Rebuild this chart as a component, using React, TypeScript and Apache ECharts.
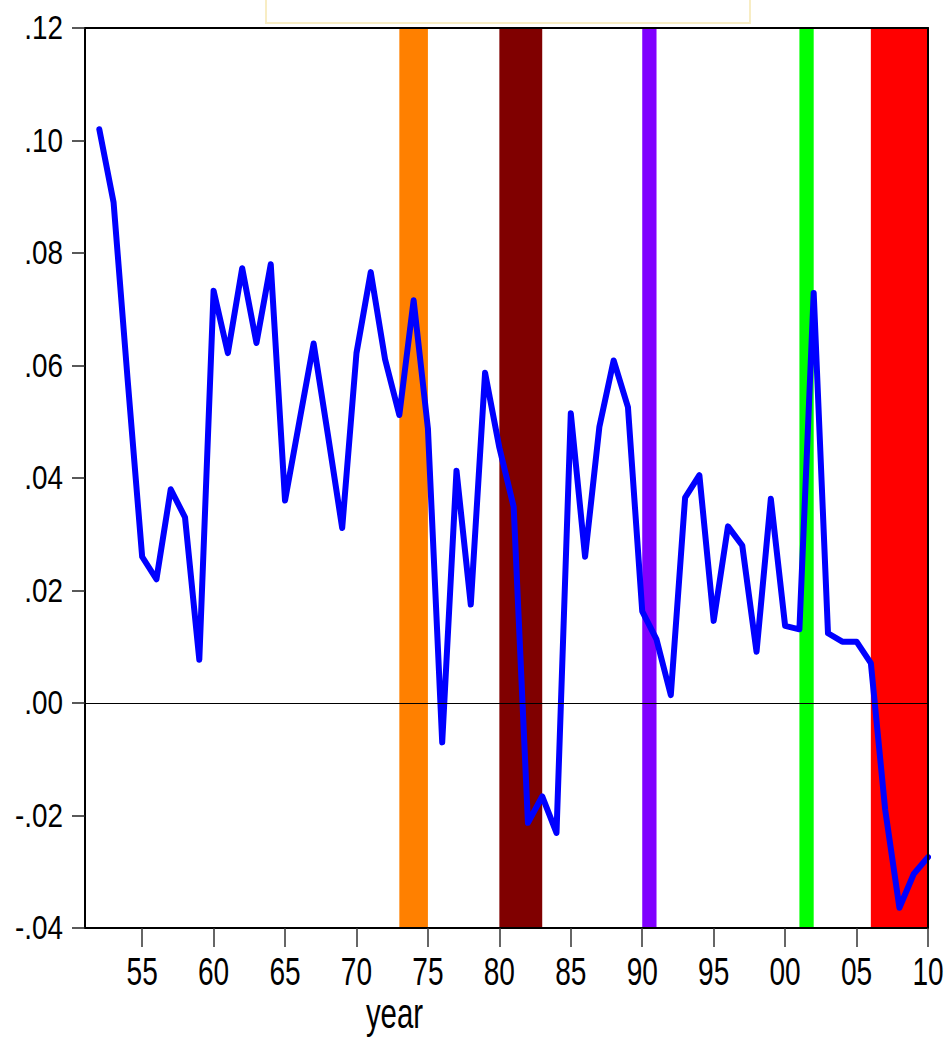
import React, { useEffect, useRef } from "react";
import * as echarts from "echarts";

const years = [
  1952, 1953, 1954, 1955, 1956, 1957, 1958, 1959, 1960, 1961,
  1962, 1963, 1964, 1965, 1966, 1967, 1968, 1969, 1970, 1971,
  1972, 1973, 1974, 1975, 1976, 1977, 1978, 1979, 1980, 1981,
  1982, 1983, 1984, 1985, 1986, 1987, 1988, 1989, 1990, 1991,
  1992, 1993, 1994, 1995, 1996, 1997, 1998, 1999, 2000, 2001,
  2002, 2003, 2004, 2005, 2006, 2007, 2008, 2009, 2010,
];

const values = [
  0.102, 0.089, 0.057, 0.026, 0.022, 0.038, 0.033, 0.0077, 0.0733, 0.0622,
  0.0773, 0.064, 0.078, 0.036, 0.05, 0.0639, 0.0477, 0.0311, 0.0622, 0.0766,
  0.0611, 0.0512, 0.0716, 0.0488, -0.007, 0.0413, 0.0175, 0.0587, 0.0454, 0.0349,
  -0.0213, -0.0166, -0.0231, 0.0515, 0.026, 0.0491, 0.0609, 0.0526, 0.0163, 0.0113,
  0.0014, 0.0365, 0.0405, 0.0146, 0.0314, 0.028, 0.0091, 0.0363, 0.0137, 0.0131,
  0.0729, 0.0124, 0.0109, 0.0109, 0.0071, -0.0189, -0.0364, -0.0304, -0.0274,
];

const bandStart = [1973, 1980, 1990, 2001, 2006];
const bandEnd = [1975, 1983, 1991, 2002, 2010];
const bandColors = ["#FF8000", "#800000", "#8000FF", "#00FF00", "#FF0000"];

const xTickValues = [1955, 1960, 1965, 1970, 1975, 1980, 1985, 1990, 1995, 2000, 2005, 2010];
const yTickValues = [-0.04, -0.02, 0, 0.02, 0.04, 0.06, 0.08, 0.1, 0.12];
const xMin = 1951;
const xMax = 2010;
const yMin = -0.04;
const yMax = 0.12;
const yStep = 0.02;
const xAxisTitle = "year";

const FONT = "'Liberation Sans', Arial, sans-serif";

function fmtY(v: number): string {
  const s = v.toFixed(2);
  return s.replace("-0.", "-.").replace(/^0\./, ".");
}

function fmtX(v: number): string {
  return String(v % 100).padStart(2, "0");
}

export default function App() {
  const ref = useRef<HTMLDivElement>(null);
  useEffect(() => {
    if (!ref.current) return;
    const chart = echarts.init(ref.current, null, { renderer: "svg" });
    const lineData = years.map((y, i) => [y, values[i]]);
    const bandData = bandStart.map((s, i) => [
      { xAxis: s, itemStyle: { color: bandColors[i], opacity: 1 } },
      { xAxis: bandEnd[i] },
    ]);
    const option: any = {
      animation: false,
      backgroundColor: "#ffffff",
      grid: { left: 85, right: 23, top: 28, bottom: 112, containLabel: false },
      xAxis: [
        {
          type: "value",
          min: xMin,
          max: xMax,
          position: "bottom",
          z: 10,
          splitLine: { show: false },
          axisLine: { show: true, onZero: false, lineStyle: { color: "#000", width: 2 } },
          axisTick: {
            show: true,
            customValues: xTickValues,
            length: 19,
            lineStyle: { color: "#333", width: 1.5 },
          },
          axisLabel: { show: false },
        },
        {
          type: "value",
          min: xMin,
          max: xMax,
          position: "top",
          z: 10,
          splitLine: { show: false },
          axisLine: { show: true, onZero: false, lineStyle: { color: "#000", width: 2 } },
          axisTick: { show: false },
          axisLabel: { show: false },
        },
      ],
      yAxis: [
        {
          type: "value",
          min: yMin,
          max: yMax,
          interval: yStep,
          z: 10,
          splitLine: { show: false },
          axisLine: { show: true, onZero: false, lineStyle: { color: "#000", width: 2 } },
          axisTick: { show: true, length: 13, lineStyle: { color: "#222", width: 1.5 } },
          axisLabel: { show: false },
        },
        {
          type: "value",
          min: yMin,
          max: yMax,
          interval: yStep,
          position: "right",
          z: 10,
          splitLine: { show: false },
          axisLine: { show: true, onZero: false, lineStyle: { color: "#000", width: 2 } },
          axisTick: { show: false },
          axisLabel: { show: false },
        },
      ],
      series: [
        {
          type: "line",
          data: [],
          z: 1,
          silent: true,
          markArea: { silent: true, data: bandData },
        },
        {
          type: "line",
          data: [],
          z: 2,
          silent: true,
          markLine: {
            silent: true,
            symbol: "none",
            label: { show: false },
            lineStyle: { color: "#000", width: 1, type: "solid" },
            data: [{ yAxis: 0 }],
          },
        },
        {
          type: "line",
          data: lineData,
          z: 3,
          showSymbol: false,
          symbol: "none",
          lineStyle: { color: "#0000FF", width: 6, cap: "round", join: "round" },
        },
      ],
    };
    chart.setOption(option);

    const axisX = chart.convertToPixel({ xAxisIndex: 0 }, xMin) as number;
    const axisY = chart.convertToPixel({ yAxisIndex: 0 }, yMin) as number;
    const graphics: any[] = [
      {
        type: "rect",
        shape: { x: 266, y: -10, width: 484, height: 33 },
        style: { fill: "#ffffff", stroke: "#F8EDC4", lineWidth: 2 },
        z: 20,
      },
    ];
    xTickValues.forEach((v) => {
      const px = chart.convertToPixel({ xAxisIndex: 0 }, v) as number;
      graphics.push({
        type: "text",
        x: px,
        y: axisY + 43,
        scaleX: 0.72,
        z: 20,
        style: {
          text: fmtX(v),
          fontSize: 39,
          fontFamily: FONT,
          fill: "#000",
          align: "center",
          verticalAlign: "middle",
        },
      });
    });
    yTickValues.forEach((v) => {
      const py = chart.convertToPixel({ yAxisIndex: 0 }, v) as number;
      graphics.push({
        type: "text",
        x: axisX - 22,
        y: py,
        scaleX: 0.82,
        z: 20,
        style: {
          text: fmtY(v),
          fontSize: 34,
          fontFamily: FONT,
          fill: "#000",
          align: "right",
          verticalAlign: "middle",
        },
      });
    });
    graphics.push({
      type: "text",
      x: 394.5,
      y: axisY + 86,
      scaleX: 0.7,
      z: 20,
      style: {
        text: xAxisTitle,
        fontSize: 42,
        fontFamily: FONT,
        fill: "#000",
        align: "center",
        verticalAlign: "middle",
      },
    });
    chart.setOption({ graphic: graphics });
    return () => chart.dispose();
  }, []);
  return (
    <div
      ref={ref}
      style={{ position: "absolute", left: 0, top: 0, width: 951, height: 1040 }}
    />
  );
}
